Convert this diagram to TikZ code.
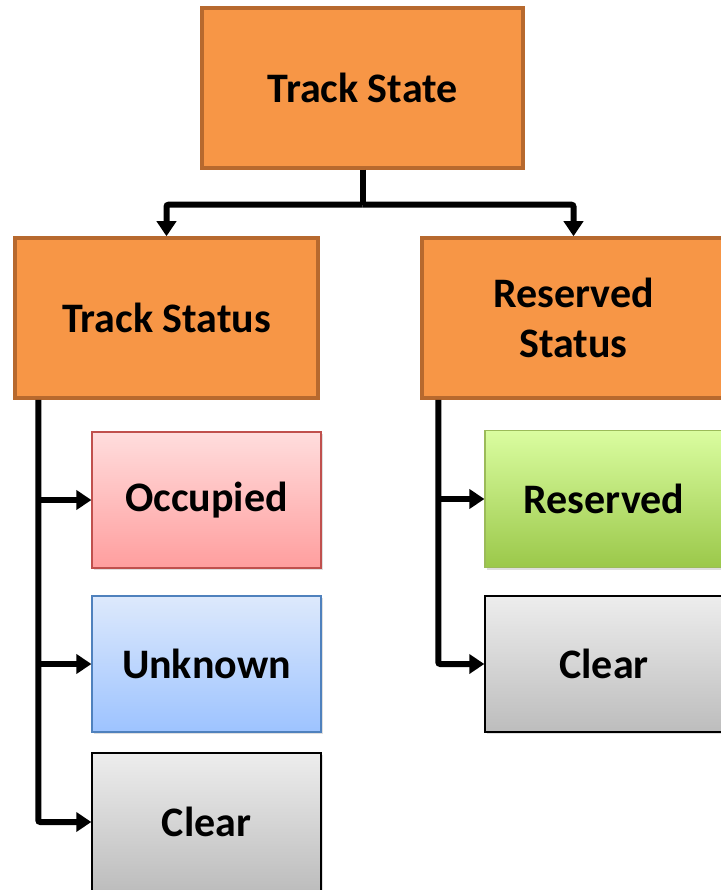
\documentclass[tikz,border=0pt]{standalone}
\usepackage{fontspec}
\setmainfont{Carlito}
\usepackage{tikz}
\usetikzlibrary{arrows.meta,shadows,positioning}

\definecolor{stateorange}{HTML}{F79646}
\definecolor{stateedge}{HTML}{B7692E}
\definecolor{occedge}{HTML}{C0504D}
\definecolor{unkedge}{HTML}{4F81BD}
\definecolor{resedge}{HTML}{9BBB59}
\definecolor{unktop}{HTML}{DDE9FC}
\definecolor{unkbottom}{HTML}{9DC3FF}
\definecolor{occtop}{HTML}{FFDDDD}
\definecolor{occbottom}{HTML}{FF9E9E}
\definecolor{restop}{HTML}{DAFDA0}
\definecolor{resbottom}{HTML}{9BC84A}

\begin{document}
\begin{tikzpicture}[
        x=1pt, y=-1pt,
        every node/.style={rectangle, draw, line width=2.5pt, align=center,
            font=\fontsize{42}{50}\selectfont\bfseries,
            drop shadow={opacity=0.25, shadow xshift=2pt, shadow yshift=-2pt}},
        statebox/.style={fill=stateorange, draw=stateedge, line width=3.5pt},
        occbox/.style={top color=occtop, bottom color=occbottom, draw=occedge, line width=1.2pt},
        unkbox/.style={top color=unktop, bottom color=unkbottom, draw=unkedge, line width=1.2pt},
        resbox/.style={top color=restop, bottom color=resbottom, draw=resedge, line width=1.2pt},
        clrbox/.style={top color=black!7, bottom color=black!26, draw=black, line width=1.4pt},
        link/.style={draw, line width=6pt, rounded corners=2pt, -{Triangle[length=15pt,width=19pt]}}
    ]
    \useasboundingbox (0,0) rectangle (720,890);

    \node[statebox, minimum width=321pt, minimum height=160pt] (state) at (362.5,88) {Track State};
    \node[statebox, minimum width=303pt, minimum height=160pt] (trk) at (166.5,318) {Track Status};
    \node[statebox, minimum width=303pt, minimum height=160pt] (rsv) at (573.5,318) {Reserved\\Status};

    \node[occbox, minimum width=229pt, minimum height=136pt] (occ) at (206.5,500) {Occupied};
    \node[unkbox, minimum width=229pt, minimum height=136pt] (unk) at (206.5,664) {Unknown};
    \node[clrbox, minimum width=229pt, minimum height=138pt] (clr1) at (206.5,822) {Clear};

    \node[resbox, minimum width=238pt, minimum height=137pt] (res) at (604,499) {Reserved};
    \node[clrbox, minimum width=238pt, minimum height=136pt] (clr2) at (604,664) {Clear};

    % top split
    \coordinate (split) at ([yshift=-35pt]state.south);
    \draw[line width=6pt] (state.south) -- (split);
    \draw[link] (split) -| (trk.north);
    \draw[link] (split) -| (rsv.north);

    % left column
    \coordinate (trkrail) at ([xshift=25pt]trk.south west);
    \draw[link] (trkrail) |- (clr1.west);
    \draw[link] (trkrail |- occ.west) -- (occ.west);
    \draw[link] (trkrail |- unk.west) -- (unk.west);

    % right column
    \coordinate (rsvrail) at ([xshift=18pt]rsv.south west);
    \draw[link] (rsvrail) |- (clr2.west);
    \draw[link] (rsvrail |- res.west) -- (res.west);
\end{tikzpicture}
\end{document}
